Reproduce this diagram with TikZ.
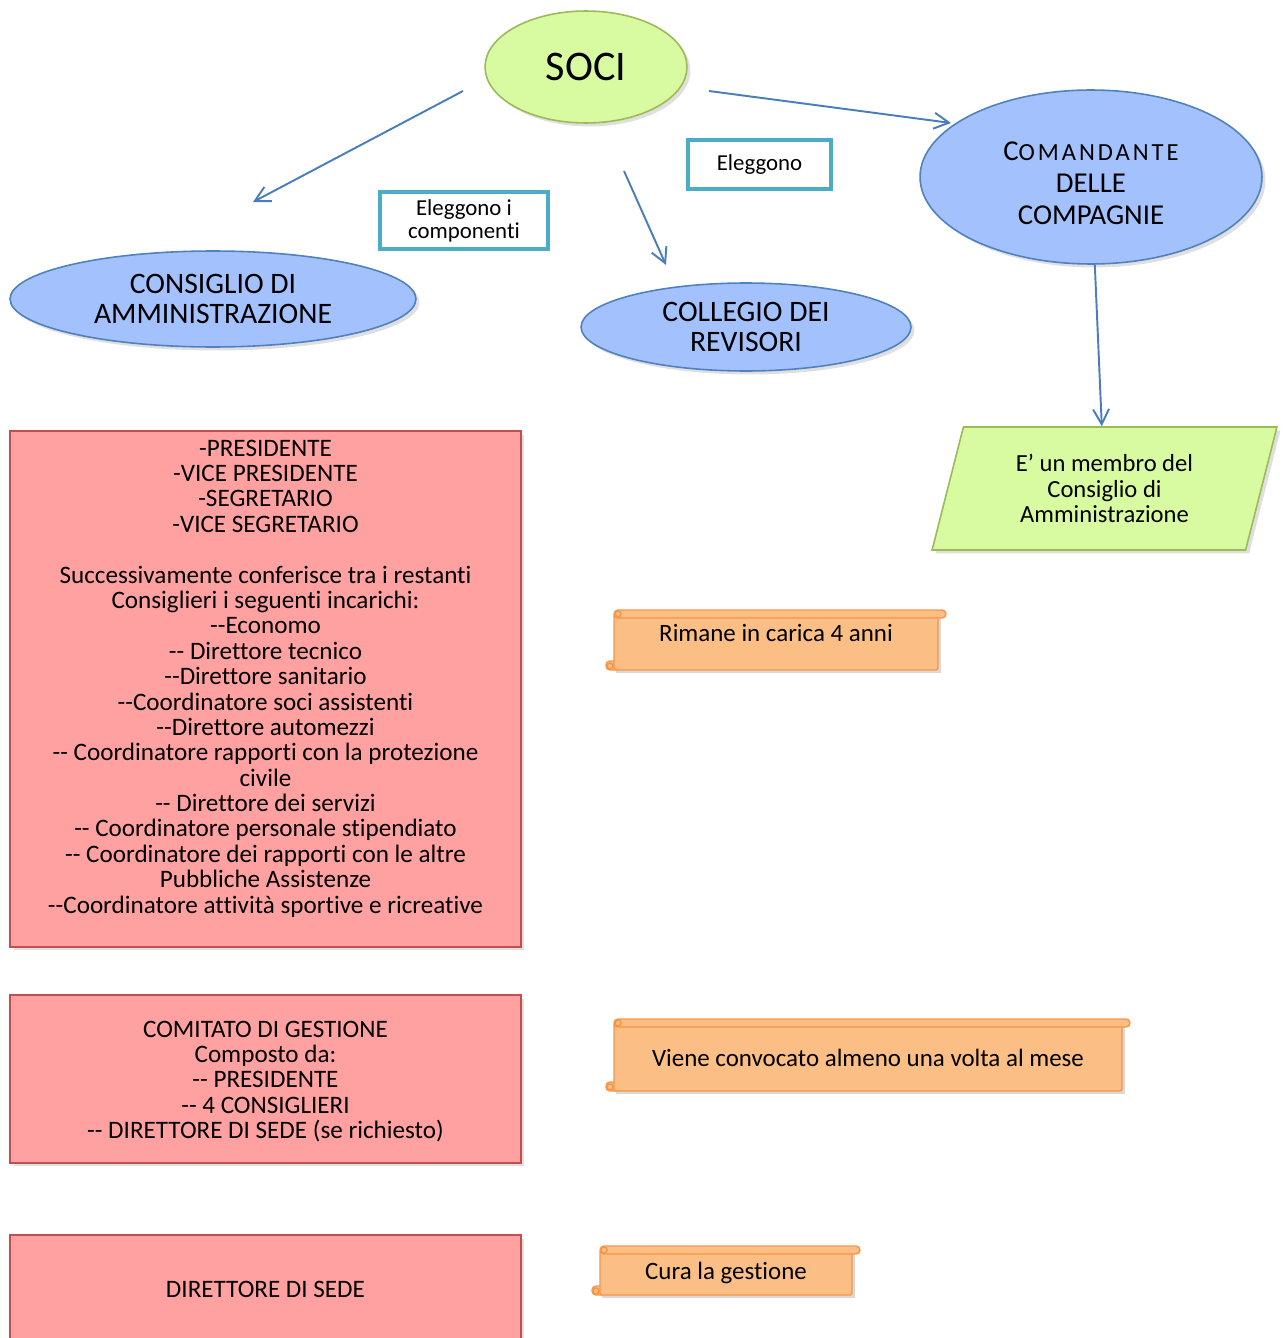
\documentclass[tikz,border=0pt]{standalone}
\usepackage{fontspec}
\setmainfont{Carlito}[Ligatures=CommonOff]
\usetikzlibrary{shapes.geometric,arrows.meta,shadows}

\definecolor{arrowblue}{RGB}{74,126,187}
\definecolor{bluefill}{RGB}{163,193,253}
\definecolor{blueline}{RGB}{79,129,189}
\definecolor{greenfill}{RGB}{216,250,160}
\definecolor{greenline}{RGB}{155,187,89}
\definecolor{redfill}{RGB}{255,161,161}
\definecolor{redline}{RGB}{192,80,77}
\definecolor{scrollfill}{RGB}{251,190,132}
\definecolor{scrollline}{RGB}{247,150,70}
\definecolor{tealline}{RGB}{75,172,198}

\newcommand\scrollshape[4]{%
  \fill[black,opacity=0.15] (#1+10,#2+7) rectangle (#3-5,#4+3);
  \filldraw[scrollpart,rounded corners=0.08cm] (#1,#4-9) rectangle (#1+14,#4);
  \filldraw[scrollpart,rounded corners=1pt] (#1+8,#2+4) rectangle (#3-8,#4);
  \filldraw[scrollpart,rounded corners=0.08cm] (#1+8,#2) rectangle (#3,#2+8);
  \draw[scrollpart,fill=none] (#1+12,#2+4) circle[radius=0.06cm];
  \draw[scrollpart,fill=none] (#1+4,#4-4) circle[radius=0.06cm];
}

\begin{document}
\begin{tikzpicture}[x=0.02cm, y=-0.02cm,
  conn/.style={draw=arrowblue, line width=1.1pt, -{Straight Barb[length=3mm,width=3.2mm]}},
  softshadow/.style={drop shadow={shadow xshift=0.7mm, shadow yshift=-0.7mm, opacity=0.25}},
  greenell/.style={ellipse, draw=greenline, fill=greenfill, line width=0.9pt, inner sep=0pt, softshadow},
  blueell/.style={ellipse, draw=blueline, fill=bluefill, line width=0.9pt, inner sep=0pt, align=center, font=\fontsize{16.9}{17.6}\selectfont, softshadow},
  greenpar/.style={trapezium, trapezium left angle=74, trapezium right angle=106, trapezium stretches=true, draw=greenline, fill=greenfill, line width=0.9pt, inner sep=0pt, align=center, font=\fontsize{14}{14.5}\selectfont, softshadow},
  tealbox/.style={draw=tealline, line width=2.3pt, fill=white, inner sep=0pt, align=center, font=\fontsize{13}{13}\selectfont},
  redbox/.style={draw=redline, fill=redfill, line width=0.9pt, inner sep=0pt, minimum width=10.22cm, align=center, font=\fontsize{14.3}{14.45}\selectfont, softshadow},
  scrollpart/.style={draw=scrollline, fill=scrollfill, line width=0.8pt},
  scrolltext/.style={font=\fontsize{14.2}{14.4}\selectfont, inner sep=0pt}]

  \useasboundingbox (0,0) rectangle (1285,1338);
  \clip (0,0) rectangle (1285,1338);

  \node[greenell, minimum width=4.04cm, minimum height=2.24cm, font=\fontsize{24}{24}\selectfont] (soci) at (586,67) {SOCI};

  \node[blueell, minimum width=8.12cm, minimum height=1.92cm] (consiglio) at (213,299) {CONSIGLIO DI\\AMMINISTRAZIONE};
  \node[blueell, minimum width=6.6cm, minimum height=1.76cm] (collegio) at (746,327) {COLLEGIO DEI\\REVISORI};
  \node[blueell, minimum width=6.84cm, minimum height=3.48cm] (comandante) at (1091,177) {};
  \node[align=center, inner sep=0pt, font=\fontsize{16.4}{18.2}\selectfont] (comandantetesto) at (1091,183.5)
    {C{\fontsize{14}{18.2}\selectfont\addfontfeature{LetterSpace=12}OMANDANTE}\\DELLE\\COMPAGNIE};

  \node[tealbox, minimum width=3.36cm, minimum height=1.14cm] (eleggonoi) at (464,220.5) {Eleggono i\\componenti};
  \node[tealbox, minimum width=2.86cm, minimum height=0.98cm] (eleggono) at (759.5,164.5) {Eleggono};

  \node[greenpar, minimum width=6.9cm, minimum height=2.46cm] (membro) at (1104.5,488.5)
    {E’ un membro del\\Consiglio di\\Amministrazione};

  \coordinate (socisx) at (463,91);
  \coordinate (cdatip) at (253,202);
  \coordinate (socigiu) at (624,171);
  \coordinate (revtip) at (666,265);
  \coordinate (socidx) at (709,91);
  \coordinate (comtip) at (951,123);

  \draw[conn] (socisx) -- (cdatip);
  \draw[conn] (socigiu) -- (revtip);
  \draw[conn] (socidx) -- (comtip);
  \draw[conn] (comandante) -- (membro);

  \node[redbox, minimum height=10.32cm] (incarichi) at (265.5,689) {};
  \node[align=center, font=\fontsize{14.3}{14.45}\selectfont, inner sep=0pt] (incarichitesto) at (265.5,678.5)
    {-PRESIDENTE\\
     -VICE PRESIDENTE\\
     -SEGRETARIO\\
     -VICE SEGRETARIO\\[14.45pt]
     Successivamente conferisce tra i restanti\\
     Consiglieri i seguenti incarichi:\\
     -{}-Economo\\
     -{}- Direttore tecnico\\
     -{}-Direttore sanitario\\
     -{}-Coordinatore soci assistenti\\
     -{}-Direttore automezzi\\
     -{}- Coordinatore rapporti con la protezione\\
     civile\\
     -{}- Direttore dei servizi\\
     -{}- Coordinatore personale stipendiato\\
     -{}- Coordinatore dei rapporti con le altre\\
     Pubbliche Assistenze\\
     -{}-Coordinatore attività sportive e ricreative};

  \node[redbox, minimum height=3.36cm] (comitato) at (265.5,1079) {};
  \node[align=center, font=\fontsize{14.3}{14.45}\selectfont, inner sep=0pt] (comitatotesto) at (265.5,1081.5)
    {COMITATO DI GESTIONE\\
     Composto da:\\
     -{}- PRESIDENTE\\
     -{}- 4 CONSIGLIERI\\
     -{}- DIRETTORE DI SEDE (se richiesto)};

  \node[redbox, minimum height=2.16cm] (direttore) at (265.5,1289) {DIRETTORE DI SEDE};

  \scrollshape{606}{610}{946}{670}
  \node[scrolltext] (rimane) at (776,633) {Rimane in carica 4 anni};

  \scrollshape{606}{1019}{1130}{1091}
  \node[scrolltext] (convocato) at (868,1058) {Viene convocato almeno una volta al mese};

  \scrollshape{592}{1246}{860}{1295}
  \node[scrolltext] (gestione) at (726,1273) {Cura la gestione};
\end{tikzpicture}
\end{document}
